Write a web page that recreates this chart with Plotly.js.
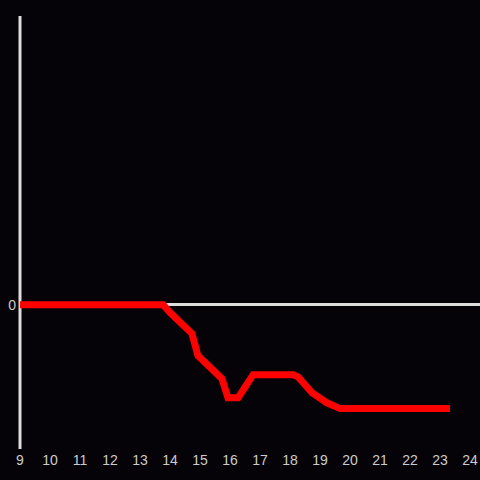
<!DOCTYPE html>
<html><head><meta charset="utf-8">
<script src="https://cdn.plot.ly/plotly-3.0.1.min.js"></script>
<style>html,body{margin:0;padding:0;background:#050308;}#chart{width:480px;height:480px;}</style>
</head><body><div id="chart"></div>
<script>
const hours = [9, 13.77, 14.0, 14.73, 14.93, 15.73, 15.93, 16.27, 16.77, 18.1, 18.27, 18.73, 19.23, 19.67, 23.33];
const values = [0, 0, -0.055, -0.2, -0.353, -0.513, -0.645, -0.645, -0.485, -0.485, -0.5, -0.61, -0.68, -0.72, -0.72];
const xTicks = [9,10,11,12,13,14,15,16,17,18,19,20,21,22,23,24];
const yTicks = [0];

Plotly.newPlot('chart', [{
  x: hours, y: values, type: 'scatter', mode: 'lines',
  line: {color: '#ff0000', width: 7}
}], {
  width: 480, height: 480,
  margin: {l: 20, r: 0, t: 16, b: 31},
  paper_bgcolor: '#050308', plot_bgcolor: '#050308',
  showlegend: false,
  font: {family: 'Liberation Sans, Arial, sans-serif', size: 14, color: '#cccccc'},
  xaxis: {range: [9, 24.33], tickvals: xTicks, ticktext: xTicks.map(String), showgrid: false, zeroline: false, showline: false, ticks: '', ticklen: 0, ticklabelstandoff: 1},
  yaxis: {range: [-1, 2], tickvals: yTicks, ticktext: ['0'], showgrid: false, zeroline: true, zerolinecolor: '#dddddd', zerolinewidth: 3, showline: false, ticks: '', ticklen: 0, ticklabelstandoff: 3},
  shapes: [{type: 'line', xref: 'paper', yref: 'paper', x0: 0, x1: 0, y0: 0, y1: 1, layer: 'below', line: {color: '#dddddd', width: 3}}]
}, {displayModeBar: false});
</script></body></html>
